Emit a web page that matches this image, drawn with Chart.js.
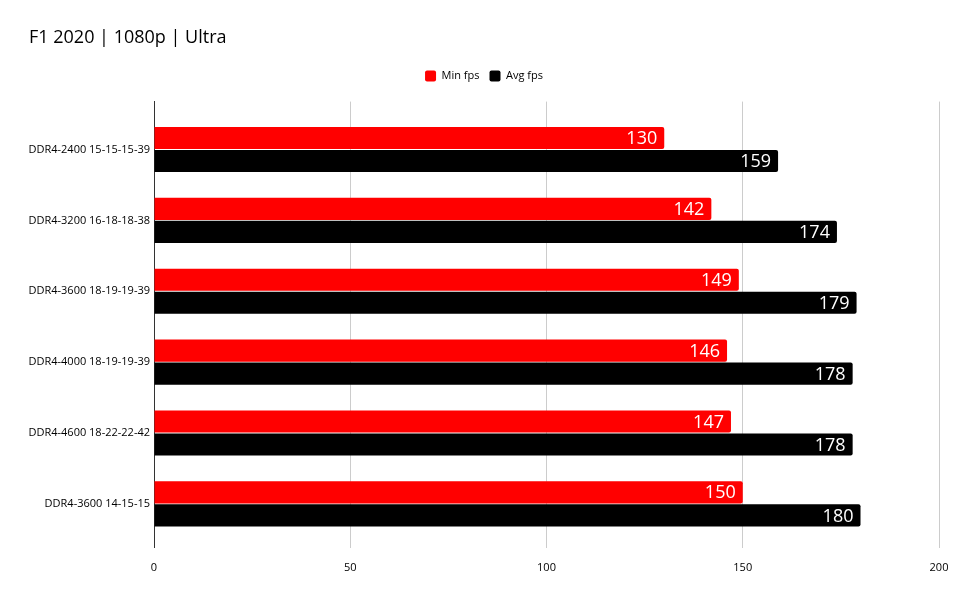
<!DOCTYPE html>
<html>
<head>
<meta charset="utf-8">
<script src="https://cdn.jsdelivr.net/npm/chart.js@4"></script>
<style>
  html, body { margin: 0; padding: 0; background: #fff; }
  #wrap { width: 971px; height: 601px; position: relative; }
</style>
</head>
<body>
<div id="wrap"><canvas id="myChart"></canvas></div>
<script>
const categories = [
    'DDR4-2400 15-15-15-39',
    'DDR4-3200 16-18-18-38',
    'DDR4-3600 18-19-19-39',
    'DDR4-4000 18-19-19-39',
    'DDR4-4600 18-22-22-42',
    'DDR4-3600 14-15-15',
];
const minFps = [130, 142, 149, 146, 147, 150];
const avgFps = [159, 174, 179, 178, 178, 180];
const xTicks = [0, 50, 100, 150, 200];

const FONT = "'Open Sans', 'Noto Sans', sans-serif";

// white value labels drawn at the end of each bar
const barLabels = {
    id: 'barLabels',
    afterDatasetsDraw(chart) {
        const ctx = chart.ctx;
        ctx.save();
        ctx.font = '18px ' + FONT;
        ctx.fillStyle = '#fff';
        ctx.textAlign = 'right';
        ctx.textBaseline = 'middle';
        chart.data.datasets.forEach((ds, i) => {
            chart.getDatasetMeta(i).data.forEach((bar, j) => {
                ctx.fillText(ds.data[j].x, bar.x - 7, bar.y + 1);
            });
        });
        ctx.restore();
    }
};

// extra room between legend and plot
const legendGap = {
    id: 'legendGap',
    beforeInit(chart) {
        const fit = chart.legend.fit;
        chart.legend.fit = function () {
            fit.bind(chart.legend)();
            this.height += 10;
        };
    }
};

const ctx = document.getElementById('myChart');
new Chart(ctx, {
    type: 'bar',
    data: {
        datasets: [
            {label: 'Min fps', data: minFps.map((v, i) => ({x: v, y: i})), backgroundColor: '#ff0000'},
            {label: 'Avg fps', data: avgFps.map((v, i) => ({x: v, y: i})), backgroundColor: '#000000'},
        ]
    },
    options: {
        indexAxis: 'y',
        responsive: true,
        maintainAspectRatio: false,
        animation: false,
        datasets: {
            bar: {
                categoryPercentage: 0.65,
                barPercentage: 0.96,
                borderRadius: 2,
            }
        },
        layout: {padding: {left: 29, right: 32, top: 12, bottom: 14}},
        scales: {
            x: {
                type: 'linear',
                min: 0,
                max: 200,
                afterBuildTicks: axis => { axis.ticks = xTicks.map(v => ({value: v})); },
                grid: {color: '#cccccc', drawTicks: false},
                border: {display: false},
                ticks: {color: '#000', font: {family: FONT, size: 11}, padding: 13},
            },
            y: {
                type: 'linear',
                reverse: true,
                offset: false,
                min: -0.676,
                max: 5.62,
                afterBuildTicks: axis => { axis.ticks = categories.map((c, i) => ({value: i})); },
                afterFit: axis => { axis.width = 125; },
                grid: {display: false, drawTicks: false},
                border: {display: true, color: '#333'},
                ticks: {
                    color: '#000',
                    font: {family: FONT, size: 11},
                    padding: 4,
                    callback: v => categories[v],
                },
            }
        },
        plugins: {
            title: {
                display: true,
                text: 'F1 2020 | 1080p | Ultra',
                align: 'start',
                color: '#000',
                font: {family: FONT, size: 18, weight: 'normal'},
                padding: {top: 15, bottom: 12},
            },
            legend: {
                labels: {
                    color: '#000',
                    font: {family: FONT, size: 11},
                    boxWidth: 11,
                    boxHeight: 11,
                    useBorderRadius: true,
                    borderRadius: 2,
                },
            },
            tooltip: {enabled: false}
        }
    },
    plugins: [barLabels, legendGap]
});
</script>
</body>
</html>
